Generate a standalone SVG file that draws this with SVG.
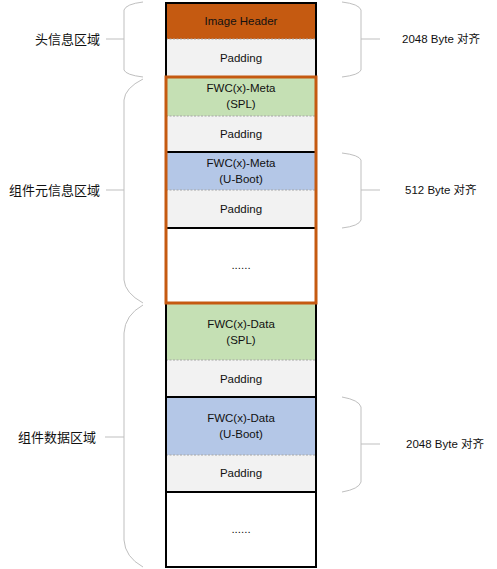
<svg xmlns="http://www.w3.org/2000/svg" width="497" height="569" viewBox="0 0 497 569">
<style>
text{font-family:"Liberation Sans","Noto Sans CJK SC",sans-serif;fill:#111;}
.t{font-size:11.5px;text-anchor:middle;dominant-baseline:central;}
.lbl{font-size:13px;text-anchor:end;dominant-baseline:central;}
.rl{font-size:11.5px;dominant-baseline:central;}
.sep{stroke:#000;stroke-width:2;}
.dash{stroke:#A6A6A6;stroke-width:1;stroke-dasharray:2 1.5;}
.brace{fill:none;stroke:#BFBFBF;stroke-width:1;}
.pad{fill:#F2F2F2;}
.green{fill:#C5E0B4;}
.blue{fill:#B4C7E7;}
</style>
<rect width="497" height="569" fill="#fff"/>
<g id="column">
<g id="image-header"><rect x="166" y="3" width="150" height="36" fill="#C55A11"/><text class="t" x="241" y="21">Image Header</text></g>
<g id="header-padding"><rect class="pad" x="166" y="39" width="150" height="38"/><line class="dash" x1="166" y1="39" x2="316" y2="39"/><text class="t" x="241" y="58">Padding</text></g>
<g id="meta-spl"><rect class="green" x="166" y="77" width="150" height="39"/><text class="t" x="241" y="88">FWC(x)-Meta</text><text class="t" x="241" y="104">(SPL)</text></g>
<g id="meta-spl-padding"><rect class="pad" x="166" y="116" width="150" height="36"/><line class="dash" x1="166" y1="116" x2="316" y2="116"/><text class="t" x="241" y="134">Padding</text></g>
<g id="meta-uboot"><rect class="blue" x="166" y="152" width="150" height="38"/><line class="sep" x1="166" y1="152" x2="316" y2="152"/><text class="t" x="241" y="163">FWC(x)-Meta</text><text class="t" x="241" y="179">(U-Boot)</text></g>
<g id="meta-uboot-padding"><rect class="pad" x="166" y="190" width="150" height="38"/><line class="dash" x1="166" y1="190" x2="316" y2="190"/><text class="t" x="241" y="209">Padding</text></g>
<g id="meta-more"><rect fill="#fff" x="166" y="228" width="150" height="75"/><line class="sep" x1="166" y1="228" x2="316" y2="228"/><text class="t" x="241" y="265">......</text></g>
<g id="data-spl"><rect class="green" x="166" y="303" width="150" height="57"/><text class="t" x="241" y="324">FWC(x)-Data</text><text class="t" x="241" y="340">(SPL)</text></g>
<g id="data-spl-padding"><rect class="pad" x="166" y="360" width="150" height="37"/><line class="dash" x1="166" y1="360" x2="316" y2="360"/><text class="t" x="241" y="379">Padding</text></g>
<g id="data-uboot"><rect class="blue" x="166" y="397" width="150" height="58"/><line class="sep" x1="166" y1="397" x2="316" y2="397"/><text class="t" x="241" y="418">FWC(x)-Data</text><text class="t" x="241" y="434">(U-Boot)</text></g>
<g id="data-uboot-padding"><rect class="pad" x="166" y="455" width="150" height="37"/><line class="dash" x1="166" y1="455" x2="316" y2="455"/><text class="t" x="241" y="473">Padding</text></g>
<g id="data-more"><rect fill="#fff" x="166" y="492" width="150" height="75"/><line class="sep" x1="166" y1="492" x2="316" y2="492"/><text class="t" x="241" y="529">......</text></g>
<rect x="166" y="3" width="150" height="564" fill="none" stroke="#000" stroke-width="2"/>
<rect id="meta-region" x="166" y="77" width="150" height="226" fill="none" stroke="#C55A11" stroke-width="3"/>
</g>
<g id="connectors">
<path class="brace" d="M143,2 Q126,4 124,10 L124,70 Q126,75 143,77 M106,39 H124"/>
<path class="brace" d="M143,79 Q125,88 124,100 L124,280 Q125,293 143,303 M106,190 H124"/>
<path class="brace" d="M143,305 Q125,315 124,333 L124,540 Q125,557 143,567 M105,437 H124"/>
<path class="brace" d="M342,2 Q359,4 361,10 V70 Q359,75 342,77 M361,39 H380"/>
<path class="brace" d="M342,153 Q359,155 361,160 V220 Q359,226 342,228 M361,190 H380"/>
<path class="brace" d="M342,397 Q359,400 361,407 V482 Q359,489 342,492 M361,444 H380"/>
</g>
<g id="labels">
<text class="lbl" x="100" y="39">头信息区域</text>
<text class="lbl" x="100" y="190">组件元信息区域</text>
<text class="lbl" x="96" y="437">组件数据区域</text>
<text class="rl" x="402" y="39">2048 Byte 对齐</text>
<text class="rl" x="405" y="190">512 Byte 对齐</text>
<text class="rl" x="406" y="444">2048 Byte 对齐</text>
</g>
</svg>
